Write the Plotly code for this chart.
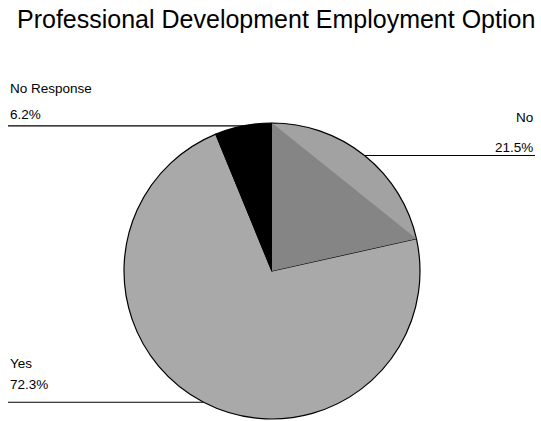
import math
import plotly.graph_objects as go

# Survey responses
categories = ["No", "Yes", "No Response"]
percents = [21.5, 72.3, 6.2]
slice_colors = ["#a2a2a2", "#a9a9a9", "#000000"]

W, H = 541, 421
CX, CY, R = 272, 271, 148  # pie centre and radius in pixels


def px(x):
    return x / W


def py(y):
    return 1 - y / H


def rim_point(frac, r=R):
    a = 2 * math.pi * frac
    return CX + r * math.sin(a), CY - r * math.cos(a)


fig = go.Figure(
    go.Pie(
        labels=categories,
        values=percents,
        sort=False,
        direction="clockwise",
        rotation=0,
        marker=dict(colors=slice_colors, line=dict(color="#000000", width=1.2)),
        textinfo="none",
        hoverinfo="label+percent",
        showlegend=False,
        domain=dict(x=[px(CX - R), px(CX + R)], y=[py(CY + R), py(CY - R)]),
    )
)

# cumulative slice boundaries and midpoints
bounds = [0]
for v in percents:
    bounds.append(bounds[-1] + v / sum(percents))
mids = [(bounds[i] + bounds[i + 1]) / 2 for i in range(len(percents))]

shapes = []
# darker inner triangle of the "No" slice
x0, y0 = rim_point(bounds[0])
x1, y1 = rim_point(bounds[1])
shapes.append(dict(
    type="path", xref="paper", yref="paper",
    path=f"M {px(CX)} {py(CY)} L {px(x0)} {py(y0)} L {px(x1)} {py(y1)} Z",
    fillcolor="#858585", line=dict(width=0), layer="above",
))

# label placement: (text x, name y, value y, side)
label_pos = {
    "No": (535, 117, 147, "right"),
    "Yes": (8, 363, 384, "left"),
    "No Response": (8, 88, 114, "left"),
}

annotations = []
for cat, pct, mid in zip(categories, percents, mids):
    tx, ny, vy, side = label_pos[cat]
    ex, ey = rim_point(mid)
    shapes.append(dict(
        type="line", xref="paper", yref="paper",
        x0=px(tx), x1=px(ex), y0=py(ey), y1=py(ey),
        line=dict(color="#000000", width=1.2), layer="below",
    ))
    for text, yy in ((cat, ny), (f"{pct:.1f}%", vy)):
        annotations.append(dict(
            text=text, xref="paper", yref="paper",
            x=px(tx), y=py(yy), xanchor=side, yanchor="middle",
            showarrow=False, font=dict(size=13.5, color="#000000"),
        ))

annotations.append(dict(
    text="Professional Development Employment Option",
    xref="paper", yref="paper", x=px(275.5), y=py(19),
    xanchor="center", yanchor="middle", showarrow=False,
    font=dict(size=25, color="#000000"),
))

fig.update_layout(
    width=W, height=H,
    margin=dict(l=0, r=0, t=0, b=0),
    paper_bgcolor="#ffffff", plot_bgcolor="#ffffff",
    font=dict(family="Liberation Sans, Arial, sans-serif"),
    shapes=shapes, annotations=annotations,
)

fig.write_html("out.html")
